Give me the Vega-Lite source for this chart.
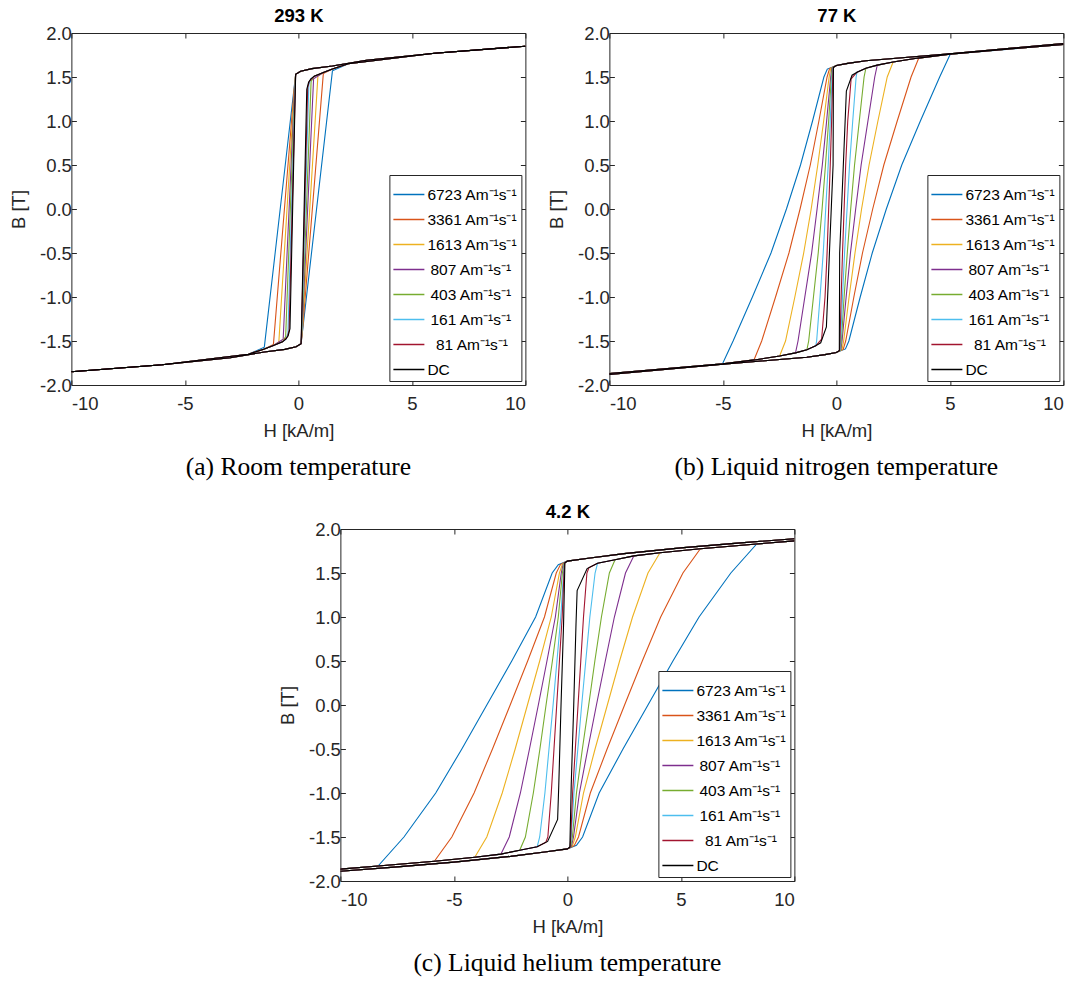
{
"$schema":"https://vega.github.io/schema/vega-lite/v6.json",
"padding":{"left":9,"top":6,"right":5,"bottom":5},
"config":{
 "font":"Liberation Sans",
 "view":{"stroke":"#262626","strokeWidth":1},
 "axis":{"domain":false,"grid":false,"tickColor":"#262626","tickSize":-5,"tickWidth":1,"labelColor":"#262626","labelFontSize":18.5,"labelFont":"Liberation Sans","titleFont":"Liberation Sans","titleFontSize":18.5,"titleFontWeight":"normal","titleColor":"#262626"},
 "axisX":{"labelPadding":14,"titlePadding":9},
 "axisY":{"labelPadding":5,"titlePadding":11},
 "title":{"font":"Liberation Serif","fontSize":25.5,"fontWeight":"normal","color":"#000000","anchor":"middle","offset":15},
 "legend":{"orient":"bottom-right","offset":4,"strokeColor":"#262626","fillColor":"#ffffff","padding":3,"labelFontSize":15.5,"labelColor":"#000000","labelFont":"Liberation Sans","symbolType":"stroke","symbolSize":961,"symbolStrokeWidth":1.5,"rowPadding":-10,"labelLimit":300,"labelOffset":2}
},
"datasets":{
"a":[
{"s":"6723","d":"d","h":10,"b":1.85},{"s":"6723","d":"d","h":6,"b":1.77},{"s":"6723","d":"d","h":3,"b":1.69},{"s":"6723","d":"d","h":1.5,"b":1.625},{"s":"6723","d":"d","h":0.6,"b":1.595},{"s":"6723","d":"d","h":0.1,"b":1.565},{"s":"6723","d":"d","h":-0.12,"b":1.53},{"s":"6723","d":"d","h":-0.2,"b":1.35},{"s":"6723","d":"d","h":-1.5,"b":-1.57},{"s":"6723","d":"d","h":-2.2,"b":-1.65},{"s":"6723","d":"d","h":-6,"b":-1.77},{"s":"6723","d":"d","h":-10,"b":-1.85},
{"s":"6723","d":"a","h":-10,"b":-1.85},{"s":"6723","d":"a","h":-6,"b":-1.77},{"s":"6723","d":"a","h":-3,"b":-1.69},{"s":"6723","d":"a","h":-1.5,"b":-1.625},{"s":"6723","d":"a","h":-0.6,"b":-1.595},{"s":"6723","d":"a","h":-0.1,"b":-1.565},{"s":"6723","d":"a","h":0.12,"b":-1.53},{"s":"6723","d":"a","h":0.2,"b":-1.35},{"s":"6723","d":"a","h":1.5,"b":1.57},{"s":"6723","d":"a","h":2.2,"b":1.65},{"s":"6723","d":"a","h":6,"b":1.77},{"s":"6723","d":"a","h":10,"b":1.85},
{"s":"3361","d":"d","h":10,"b":1.85},{"s":"3361","d":"d","h":6,"b":1.77},{"s":"3361","d":"d","h":3,"b":1.69},{"s":"3361","d":"d","h":1.5,"b":1.625},{"s":"3361","d":"d","h":0.6,"b":1.595},{"s":"3361","d":"d","h":0.1,"b":1.565},{"s":"3361","d":"d","h":-0.12,"b":1.53},{"s":"3361","d":"d","h":-0.19,"b":1.35},{"s":"3361","d":"d","h":-1.1,"b":-1.54},{"s":"3361","d":"d","h":-1.5,"b":-1.59},{"s":"3361","d":"d","h":-2.2,"b":-1.65},{"s":"3361","d":"d","h":-6,"b":-1.77},{"s":"3361","d":"d","h":-10,"b":-1.85},
{"s":"3361","d":"a","h":-10,"b":-1.85},{"s":"3361","d":"a","h":-6,"b":-1.77},{"s":"3361","d":"a","h":-3,"b":-1.69},{"s":"3361","d":"a","h":-1.5,"b":-1.625},{"s":"3361","d":"a","h":-0.6,"b":-1.595},{"s":"3361","d":"a","h":-0.1,"b":-1.565},{"s":"3361","d":"a","h":0.12,"b":-1.53},{"s":"3361","d":"a","h":0.19,"b":-1.35},{"s":"3361","d":"a","h":1.1,"b":1.54},{"s":"3361","d":"a","h":1.5,"b":1.59},{"s":"3361","d":"a","h":2.2,"b":1.65},{"s":"3361","d":"a","h":6,"b":1.77},{"s":"3361","d":"a","h":10,"b":1.85},
{"s":"1613","d":"d","h":10,"b":1.85},{"s":"1613","d":"d","h":6,"b":1.77},{"s":"1613","d":"d","h":3,"b":1.69},{"s":"1613","d":"d","h":1.5,"b":1.625},{"s":"1613","d":"d","h":0.6,"b":1.595},{"s":"1613","d":"d","h":0.1,"b":1.565},{"s":"1613","d":"d","h":-0.12,"b":1.53},{"s":"1613","d":"d","h":-0.18,"b":1.35},{"s":"1613","d":"d","h":-0.86,"b":-1.51},{"s":"1613","d":"d","h":-1.1,"b":-1.55},{"s":"1613","d":"d","h":-1.5,"b":-1.59},{"s":"1613","d":"d","h":-2.2,"b":-1.65},{"s":"1613","d":"d","h":-6,"b":-1.77},{"s":"1613","d":"d","h":-10,"b":-1.85},
{"s":"1613","d":"a","h":-10,"b":-1.85},{"s":"1613","d":"a","h":-6,"b":-1.77},{"s":"1613","d":"a","h":-3,"b":-1.69},{"s":"1613","d":"a","h":-1.5,"b":-1.625},{"s":"1613","d":"a","h":-0.6,"b":-1.595},{"s":"1613","d":"a","h":-0.1,"b":-1.565},{"s":"1613","d":"a","h":0.12,"b":-1.53},{"s":"1613","d":"a","h":0.18,"b":-1.35},{"s":"1613","d":"a","h":0.86,"b":1.51},{"s":"1613","d":"a","h":1.1,"b":1.55},{"s":"1613","d":"a","h":1.5,"b":1.59},{"s":"1613","d":"a","h":2.2,"b":1.65},{"s":"1613","d":"a","h":6,"b":1.77},{"s":"1613","d":"a","h":10,"b":1.85},
{"s":"807","d":"d","h":10,"b":1.85},{"s":"807","d":"d","h":6,"b":1.77},{"s":"807","d":"d","h":3,"b":1.69},{"s":"807","d":"d","h":1.5,"b":1.625},{"s":"807","d":"d","h":0.6,"b":1.595},{"s":"807","d":"d","h":0.1,"b":1.565},{"s":"807","d":"d","h":-0.12,"b":1.53},{"s":"807","d":"d","h":-0.17,"b":1.35},{"s":"807","d":"d","h":-0.67,"b":-1.48},{"s":"807","d":"d","h":-1.1,"b":-1.55},{"s":"807","d":"d","h":-1.5,"b":-1.59},{"s":"807","d":"d","h":-2.2,"b":-1.65},{"s":"807","d":"d","h":-6,"b":-1.77},{"s":"807","d":"d","h":-10,"b":-1.85},
{"s":"807","d":"a","h":-10,"b":-1.85},{"s":"807","d":"a","h":-6,"b":-1.77},{"s":"807","d":"a","h":-3,"b":-1.69},{"s":"807","d":"a","h":-1.5,"b":-1.625},{"s":"807","d":"a","h":-0.6,"b":-1.595},{"s":"807","d":"a","h":-0.1,"b":-1.565},{"s":"807","d":"a","h":0.12,"b":-1.53},{"s":"807","d":"a","h":0.17,"b":-1.35},{"s":"807","d":"a","h":0.67,"b":1.48},{"s":"807","d":"a","h":1.1,"b":1.55},{"s":"807","d":"a","h":1.5,"b":1.59},{"s":"807","d":"a","h":2.2,"b":1.65},{"s":"807","d":"a","h":6,"b":1.77},{"s":"807","d":"a","h":10,"b":1.85},
{"s":"403","d":"d","h":10,"b":1.85},{"s":"403","d":"d","h":6,"b":1.77},{"s":"403","d":"d","h":3,"b":1.69},{"s":"403","d":"d","h":1.5,"b":1.625},{"s":"403","d":"d","h":0.6,"b":1.595},{"s":"403","d":"d","h":0.1,"b":1.565},{"s":"403","d":"d","h":-0.12,"b":1.53},{"s":"403","d":"d","h":-0.16,"b":1.35},{"s":"403","d":"d","h":-0.56,"b":-1.45},{"s":"403","d":"d","h":-0.7,"b":-1.51},{"s":"403","d":"d","h":-1.1,"b":-1.55},{"s":"403","d":"d","h":-1.5,"b":-1.59},{"s":"403","d":"d","h":-2.2,"b":-1.65},{"s":"403","d":"d","h":-6,"b":-1.77},{"s":"403","d":"d","h":-10,"b":-1.85},
{"s":"403","d":"a","h":-10,"b":-1.85},{"s":"403","d":"a","h":-6,"b":-1.77},{"s":"403","d":"a","h":-3,"b":-1.69},{"s":"403","d":"a","h":-1.5,"b":-1.625},{"s":"403","d":"a","h":-0.6,"b":-1.595},{"s":"403","d":"a","h":-0.1,"b":-1.565},{"s":"403","d":"a","h":0.12,"b":-1.53},{"s":"403","d":"a","h":0.16,"b":-1.35},{"s":"403","d":"a","h":0.56,"b":1.45},{"s":"403","d":"a","h":0.7,"b":1.51},{"s":"403","d":"a","h":1.1,"b":1.55},{"s":"403","d":"a","h":1.5,"b":1.59},{"s":"403","d":"a","h":2.2,"b":1.65},{"s":"403","d":"a","h":6,"b":1.77},{"s":"403","d":"a","h":10,"b":1.85},
{"s":"161","d":"d","h":10,"b":1.85},{"s":"161","d":"d","h":6,"b":1.77},{"s":"161","d":"d","h":3,"b":1.69},{"s":"161","d":"d","h":1.5,"b":1.625},{"s":"161","d":"d","h":0.6,"b":1.595},{"s":"161","d":"d","h":0.1,"b":1.565},{"s":"161","d":"d","h":-0.12,"b":1.53},{"s":"161","d":"d","h":-0.15,"b":1.35},{"s":"161","d":"d","h":-0.46,"b":-1.41},{"s":"161","d":"d","h":-0.55,"b":-1.48},{"s":"161","d":"d","h":-0.7,"b":-1.51},{"s":"161","d":"d","h":-1.1,"b":-1.55},{"s":"161","d":"d","h":-1.5,"b":-1.59},{"s":"161","d":"d","h":-2.2,"b":-1.65},{"s":"161","d":"d","h":-6,"b":-1.77},{"s":"161","d":"d","h":-10,"b":-1.85},
{"s":"161","d":"a","h":-10,"b":-1.85},{"s":"161","d":"a","h":-6,"b":-1.77},{"s":"161","d":"a","h":-3,"b":-1.69},{"s":"161","d":"a","h":-1.5,"b":-1.625},{"s":"161","d":"a","h":-0.6,"b":-1.595},{"s":"161","d":"a","h":-0.1,"b":-1.565},{"s":"161","d":"a","h":0.12,"b":-1.53},{"s":"161","d":"a","h":0.15,"b":-1.35},{"s":"161","d":"a","h":0.46,"b":1.41},{"s":"161","d":"a","h":0.55,"b":1.48},{"s":"161","d":"a","h":0.7,"b":1.51},{"s":"161","d":"a","h":1.1,"b":1.55},{"s":"161","d":"a","h":1.5,"b":1.59},{"s":"161","d":"a","h":2.2,"b":1.65},{"s":"161","d":"a","h":6,"b":1.77},{"s":"161","d":"a","h":10,"b":1.85},
{"s":"81","d":"d","h":10,"b":1.85},{"s":"81","d":"d","h":6,"b":1.77},{"s":"81","d":"d","h":3,"b":1.69},{"s":"81","d":"d","h":1.5,"b":1.625},{"s":"81","d":"d","h":0.6,"b":1.595},{"s":"81","d":"d","h":0.1,"b":1.565},{"s":"81","d":"d","h":-0.12,"b":1.53},{"s":"81","d":"d","h":-0.14,"b":1.35},{"s":"81","d":"d","h":-0.41,"b":-1.38},{"s":"81","d":"d","h":-0.48,"b":-1.45},{"s":"81","d":"d","h":-0.7,"b":-1.51},{"s":"81","d":"d","h":-1.1,"b":-1.55},{"s":"81","d":"d","h":-1.5,"b":-1.59},{"s":"81","d":"d","h":-2.2,"b":-1.65},{"s":"81","d":"d","h":-6,"b":-1.77},{"s":"81","d":"d","h":-10,"b":-1.85},
{"s":"81","d":"a","h":-10,"b":-1.85},{"s":"81","d":"a","h":-6,"b":-1.77},{"s":"81","d":"a","h":-3,"b":-1.69},{"s":"81","d":"a","h":-1.5,"b":-1.625},{"s":"81","d":"a","h":-0.6,"b":-1.595},{"s":"81","d":"a","h":-0.1,"b":-1.565},{"s":"81","d":"a","h":0.12,"b":-1.53},{"s":"81","d":"a","h":0.14,"b":-1.35},{"s":"81","d":"a","h":0.41,"b":1.38},{"s":"81","d":"a","h":0.48,"b":1.45},{"s":"81","d":"a","h":0.7,"b":1.51},{"s":"81","d":"a","h":1.1,"b":1.55},{"s":"81","d":"a","h":1.5,"b":1.59},{"s":"81","d":"a","h":2.2,"b":1.65},{"s":"81","d":"a","h":6,"b":1.77},{"s":"81","d":"a","h":10,"b":1.85},
{"s":"DC","d":"d","h":10,"b":1.85},{"s":"DC","d":"d","h":6,"b":1.77},{"s":"DC","d":"d","h":3,"b":1.69},{"s":"DC","d":"d","h":1.5,"b":1.625},{"s":"DC","d":"d","h":0.6,"b":1.595},{"s":"DC","d":"d","h":0.1,"b":1.565},{"s":"DC","d":"d","h":-0.12,"b":1.53},{"s":"DC","d":"d","h":-0.37,"b":-1.36},{"s":"DC","d":"d","h":-0.45,"b":-1.44},{"s":"DC","d":"d","h":-0.55,"b":-1.48},{"s":"DC","d":"d","h":-0.7,"b":-1.51},{"s":"DC","d":"d","h":-1.1,"b":-1.55},{"s":"DC","d":"d","h":-1.5,"b":-1.59},{"s":"DC","d":"d","h":-2.2,"b":-1.65},{"s":"DC","d":"d","h":-6,"b":-1.77},{"s":"DC","d":"d","h":-10,"b":-1.85},
{"s":"DC","d":"a","h":-10,"b":-1.85},{"s":"DC","d":"a","h":-6,"b":-1.77},{"s":"DC","d":"a","h":-3,"b":-1.69},{"s":"DC","d":"a","h":-1.5,"b":-1.625},{"s":"DC","d":"a","h":-0.6,"b":-1.595},{"s":"DC","d":"a","h":-0.1,"b":-1.565},{"s":"DC","d":"a","h":0.12,"b":-1.53},{"s":"DC","d":"a","h":0.37,"b":1.36},{"s":"DC","d":"a","h":0.45,"b":1.44},{"s":"DC","d":"a","h":0.55,"b":1.48},{"s":"DC","d":"a","h":0.7,"b":1.51},{"s":"DC","d":"a","h":1.1,"b":1.55},{"s":"DC","d":"a","h":1.5,"b":1.59},{"s":"DC","d":"a","h":2.2,"b":1.65},{"s":"DC","d":"a","h":6,"b":1.77},{"s":"DC","d":"a","h":10,"b":1.85}
],
"b":[
{"s":"6723","d":"d","h":10,"b":1.88},{"s":"6723","d":"d","h":5,"b":1.765},{"s":"6723","d":"d","h":2.5,"b":1.71},{"s":"6723","d":"d","h":1.3,"b":1.685},{"s":"6723","d":"d","h":0.5,"b":1.655},{"s":"6723","d":"d","h":0,"b":1.63},{"s":"6723","d":"d","h":-0.4,"b":1.59},{"s":"6723","d":"d","h":-0.55,"b":1.5},{"s":"6723","d":"d","h":-1.05,"b":1},{"s":"6723","d":"d","h":-1.58,"b":0.5},{"s":"6723","d":"d","h":-2.2,"b":0},{"s":"6723","d":"d","h":-2.88,"b":-0.5},{"s":"6723","d":"d","h":-3.7,"b":-1},{"s":"6723","d":"d","h":-4.55,"b":-1.5},{"s":"6723","d":"d","h":-5.02,"b":-1.76},{"s":"6723","d":"d","h":-10,"b":-1.87},
{"s":"6723","d":"a","h":-10,"b":-1.88},{"s":"6723","d":"a","h":-5,"b":-1.765},{"s":"6723","d":"a","h":-2.5,"b":-1.71},{"s":"6723","d":"a","h":-1.3,"b":-1.685},{"s":"6723","d":"a","h":-0.5,"b":-1.655},{"s":"6723","d":"a","h":0,"b":-1.63},{"s":"6723","d":"a","h":0.4,"b":-1.59},{"s":"6723","d":"a","h":0.55,"b":-1.5},{"s":"6723","d":"a","h":1.05,"b":-1},{"s":"6723","d":"a","h":1.58,"b":-0.5},{"s":"6723","d":"a","h":2.2,"b":0},{"s":"6723","d":"a","h":2.88,"b":0.5},{"s":"6723","d":"a","h":3.7,"b":1},{"s":"6723","d":"a","h":4.55,"b":1.5},{"s":"6723","d":"a","h":5.02,"b":1.76},{"s":"6723","d":"a","h":10,"b":1.87},
{"s":"3361","d":"d","h":10,"b":1.88},{"s":"3361","d":"d","h":5,"b":1.765},{"s":"3361","d":"d","h":2.5,"b":1.71},{"s":"3361","d":"d","h":1.3,"b":1.685},{"s":"3361","d":"d","h":0.5,"b":1.655},{"s":"3361","d":"d","h":0,"b":1.63},{"s":"3361","d":"d","h":-0.3,"b":1.595},{"s":"3361","d":"d","h":-0.41,"b":1.5},{"s":"3361","d":"d","h":-0.77,"b":1},{"s":"3361","d":"d","h":-1.15,"b":0.5},{"s":"3361","d":"d","h":-1.6,"b":0},{"s":"3361","d":"d","h":-2.09,"b":-0.5},{"s":"3361","d":"d","h":-2.68,"b":-1},{"s":"3361","d":"d","h":-3.29,"b":-1.5},{"s":"3361","d":"d","h":-3.63,"b":-1.715},{"s":"3361","d":"d","h":-5,"b":-1.76},{"s":"3361","d":"d","h":-10,"b":-1.87},
{"s":"3361","d":"a","h":-10,"b":-1.88},{"s":"3361","d":"a","h":-5,"b":-1.765},{"s":"3361","d":"a","h":-2.5,"b":-1.71},{"s":"3361","d":"a","h":-1.3,"b":-1.685},{"s":"3361","d":"a","h":-0.5,"b":-1.655},{"s":"3361","d":"a","h":0,"b":-1.63},{"s":"3361","d":"a","h":0.3,"b":-1.595},{"s":"3361","d":"a","h":0.41,"b":-1.5},{"s":"3361","d":"a","h":0.77,"b":-1},{"s":"3361","d":"a","h":1.15,"b":-0.5},{"s":"3361","d":"a","h":1.6,"b":0},{"s":"3361","d":"a","h":2.09,"b":0.5},{"s":"3361","d":"a","h":2.68,"b":1},{"s":"3361","d":"a","h":3.29,"b":1.5},{"s":"3361","d":"a","h":3.63,"b":1.715},{"s":"3361","d":"a","h":5,"b":1.76},{"s":"3361","d":"a","h":10,"b":1.87},
{"s":"1613","d":"d","h":10,"b":1.88},{"s":"1613","d":"d","h":5,"b":1.765},{"s":"1613","d":"d","h":2.5,"b":1.71},{"s":"1613","d":"d","h":1.3,"b":1.685},{"s":"1613","d":"d","h":0.5,"b":1.655},{"s":"1613","d":"d","h":0,"b":1.63},{"s":"1613","d":"d","h":-0.25,"b":1.598},{"s":"1613","d":"d","h":-0.32,"b":1.5},{"s":"1613","d":"d","h":-0.56,"b":1},{"s":"1613","d":"d","h":-0.82,"b":0.5},{"s":"1613","d":"d","h":-1.11,"b":0},{"s":"1613","d":"d","h":-1.44,"b":-0.5},{"s":"1613","d":"d","h":-1.83,"b":-1},{"s":"1613","d":"d","h":-2.24,"b":-1.5},{"s":"1613","d":"d","h":-2.5,"b":-1.67},{"s":"1613","d":"d","h":-3.6,"b":-1.715},{"s":"1613","d":"d","h":-5,"b":-1.76},{"s":"1613","d":"d","h":-10,"b":-1.87},
{"s":"1613","d":"a","h":-10,"b":-1.88},{"s":"1613","d":"a","h":-5,"b":-1.765},{"s":"1613","d":"a","h":-2.5,"b":-1.71},{"s":"1613","d":"a","h":-1.3,"b":-1.685},{"s":"1613","d":"a","h":-0.5,"b":-1.655},{"s":"1613","d":"a","h":0,"b":-1.63},{"s":"1613","d":"a","h":0.25,"b":-1.598},{"s":"1613","d":"a","h":0.32,"b":-1.5},{"s":"1613","d":"a","h":0.56,"b":-1},{"s":"1613","d":"a","h":0.82,"b":-0.5},{"s":"1613","d":"a","h":1.11,"b":0},{"s":"1613","d":"a","h":1.44,"b":0.5},{"s":"1613","d":"a","h":1.83,"b":1},{"s":"1613","d":"a","h":2.24,"b":1.5},{"s":"1613","d":"a","h":2.5,"b":1.67},{"s":"1613","d":"a","h":3.6,"b":1.715},{"s":"1613","d":"a","h":5,"b":1.76},{"s":"1613","d":"a","h":10,"b":1.87},
{"s":"807","d":"d","h":10,"b":1.88},{"s":"807","d":"d","h":5,"b":1.765},{"s":"807","d":"d","h":2.5,"b":1.71},{"s":"807","d":"d","h":1.3,"b":1.685},{"s":"807","d":"d","h":0.5,"b":1.655},{"s":"807","d":"d","h":0,"b":1.63},{"s":"807","d":"d","h":-0.2,"b":1.6},{"s":"807","d":"d","h":-0.25,"b":1.5},{"s":"807","d":"d","h":-0.43,"b":1},{"s":"807","d":"d","h":-0.62,"b":0.5},{"s":"807","d":"d","h":-0.85,"b":0},{"s":"807","d":"d","h":-1.09,"b":-0.5},{"s":"807","d":"d","h":-1.39,"b":-1},{"s":"807","d":"d","h":-1.69,"b":-1.5},{"s":"807","d":"d","h":-1.8,"b":-1.635},{"s":"807","d":"d","h":-2.5,"b":-1.67},{"s":"807","d":"d","h":-3.6,"b":-1.715},{"s":"807","d":"d","h":-5,"b":-1.76},{"s":"807","d":"d","h":-10,"b":-1.87},
{"s":"807","d":"a","h":-10,"b":-1.88},{"s":"807","d":"a","h":-5,"b":-1.765},{"s":"807","d":"a","h":-2.5,"b":-1.71},{"s":"807","d":"a","h":-1.3,"b":-1.685},{"s":"807","d":"a","h":-0.5,"b":-1.655},{"s":"807","d":"a","h":0,"b":-1.63},{"s":"807","d":"a","h":0.2,"b":-1.6},{"s":"807","d":"a","h":0.25,"b":-1.5},{"s":"807","d":"a","h":0.43,"b":-1},{"s":"807","d":"a","h":0.62,"b":-0.5},{"s":"807","d":"a","h":0.85,"b":0},{"s":"807","d":"a","h":1.09,"b":0.5},{"s":"807","d":"a","h":1.39,"b":1},{"s":"807","d":"a","h":1.69,"b":1.5},{"s":"807","d":"a","h":1.8,"b":1.635},{"s":"807","d":"a","h":2.5,"b":1.67},{"s":"807","d":"a","h":3.6,"b":1.715},{"s":"807","d":"a","h":5,"b":1.76},{"s":"807","d":"a","h":10,"b":1.87},
{"s":"403","d":"d","h":10,"b":1.88},{"s":"403","d":"d","h":5,"b":1.765},{"s":"403","d":"d","h":2.5,"b":1.71},{"s":"403","d":"d","h":1.3,"b":1.685},{"s":"403","d":"d","h":0.5,"b":1.655},{"s":"403","d":"d","h":0,"b":1.63},{"s":"403","d":"d","h":-0.18,"b":1.603},{"s":"403","d":"d","h":-0.22,"b":1.5},{"s":"403","d":"d","h":-0.34,"b":1},{"s":"403","d":"d","h":-0.48,"b":0.5},{"s":"403","d":"d","h":-0.63,"b":0},{"s":"403","d":"d","h":-0.8,"b":-0.5},{"s":"403","d":"d","h":-1.01,"b":-1},{"s":"403","d":"d","h":-1.22,"b":-1.5},{"s":"403","d":"d","h":-1.3,"b":-1.6},{"s":"403","d":"d","h":-1.8,"b":-1.635},{"s":"403","d":"d","h":-2.5,"b":-1.67},{"s":"403","d":"d","h":-3.6,"b":-1.715},{"s":"403","d":"d","h":-5,"b":-1.76},{"s":"403","d":"d","h":-10,"b":-1.87},
{"s":"403","d":"a","h":-10,"b":-1.88},{"s":"403","d":"a","h":-5,"b":-1.765},{"s":"403","d":"a","h":-2.5,"b":-1.71},{"s":"403","d":"a","h":-1.3,"b":-1.685},{"s":"403","d":"a","h":-0.5,"b":-1.655},{"s":"403","d":"a","h":0,"b":-1.63},{"s":"403","d":"a","h":0.18,"b":-1.603},{"s":"403","d":"a","h":0.22,"b":-1.5},{"s":"403","d":"a","h":0.34,"b":-1},{"s":"403","d":"a","h":0.48,"b":-0.5},{"s":"403","d":"a","h":0.63,"b":0},{"s":"403","d":"a","h":0.8,"b":0.5},{"s":"403","d":"a","h":1.01,"b":1},{"s":"403","d":"a","h":1.22,"b":1.5},{"s":"403","d":"a","h":1.3,"b":1.6},{"s":"403","d":"a","h":1.8,"b":1.635},{"s":"403","d":"a","h":2.5,"b":1.67},{"s":"403","d":"a","h":3.6,"b":1.715},{"s":"403","d":"a","h":5,"b":1.76},{"s":"403","d":"a","h":10,"b":1.87},
{"s":"161","d":"d","h":10,"b":1.88},{"s":"161","d":"d","h":5,"b":1.765},{"s":"161","d":"d","h":2.5,"b":1.71},{"s":"161","d":"d","h":1.3,"b":1.685},{"s":"161","d":"d","h":0.5,"b":1.655},{"s":"161","d":"d","h":0,"b":1.63},{"s":"161","d":"d","h":-0.16,"b":1.605},{"s":"161","d":"d","h":-0.19,"b":1.5},{"s":"161","d":"d","h":-0.27,"b":1},{"s":"161","d":"d","h":-0.36,"b":0.5},{"s":"161","d":"d","h":-0.47,"b":0},{"s":"161","d":"d","h":-0.58,"b":-0.5},{"s":"161","d":"d","h":-0.72,"b":-1},{"s":"161","d":"d","h":-0.87,"b":-1.5},{"s":"161","d":"d","h":-0.91,"b":-1.555},{"s":"161","d":"d","h":-1.3,"b":-1.6},{"s":"161","d":"d","h":-1.8,"b":-1.635},{"s":"161","d":"d","h":-2.5,"b":-1.67},{"s":"161","d":"d","h":-3.6,"b":-1.715},{"s":"161","d":"d","h":-5,"b":-1.76},{"s":"161","d":"d","h":-10,"b":-1.87},
{"s":"161","d":"a","h":-10,"b":-1.88},{"s":"161","d":"a","h":-5,"b":-1.765},{"s":"161","d":"a","h":-2.5,"b":-1.71},{"s":"161","d":"a","h":-1.3,"b":-1.685},{"s":"161","d":"a","h":-0.5,"b":-1.655},{"s":"161","d":"a","h":0,"b":-1.63},{"s":"161","d":"a","h":0.16,"b":-1.605},{"s":"161","d":"a","h":0.19,"b":-1.5},{"s":"161","d":"a","h":0.27,"b":-1},{"s":"161","d":"a","h":0.36,"b":-0.5},{"s":"161","d":"a","h":0.47,"b":0},{"s":"161","d":"a","h":0.58,"b":0.5},{"s":"161","d":"a","h":0.72,"b":1},{"s":"161","d":"a","h":0.87,"b":1.5},{"s":"161","d":"a","h":0.91,"b":1.555},{"s":"161","d":"a","h":1.3,"b":1.6},{"s":"161","d":"a","h":1.8,"b":1.635},{"s":"161","d":"a","h":2.5,"b":1.67},{"s":"161","d":"a","h":3.6,"b":1.715},{"s":"161","d":"a","h":5,"b":1.76},{"s":"161","d":"a","h":10,"b":1.87},
{"s":"81","d":"d","h":10,"b":1.88},{"s":"81","d":"d","h":5,"b":1.765},{"s":"81","d":"d","h":2.5,"b":1.71},{"s":"81","d":"d","h":1.3,"b":1.685},{"s":"81","d":"d","h":0.5,"b":1.655},{"s":"81","d":"d","h":0,"b":1.63},{"s":"81","d":"d","h":-0.14,"b":1.607},{"s":"81","d":"d","h":-0.16,"b":1.5},{"s":"81","d":"d","h":-0.21,"b":1},{"s":"81","d":"d","h":-0.27,"b":0.5},{"s":"81","d":"d","h":-0.34,"b":0},{"s":"81","d":"d","h":-0.41,"b":-0.5},{"s":"81","d":"d","h":-0.5,"b":-1},{"s":"81","d":"d","h":-0.65,"b":-1.48},{"s":"81","d":"d","h":-0.91,"b":-1.555},{"s":"81","d":"d","h":-1.3,"b":-1.6},{"s":"81","d":"d","h":-1.8,"b":-1.635},{"s":"81","d":"d","h":-2.5,"b":-1.67},{"s":"81","d":"d","h":-3.6,"b":-1.715},{"s":"81","d":"d","h":-5,"b":-1.76},{"s":"81","d":"d","h":-10,"b":-1.87},
{"s":"81","d":"a","h":-10,"b":-1.88},{"s":"81","d":"a","h":-5,"b":-1.765},{"s":"81","d":"a","h":-2.5,"b":-1.71},{"s":"81","d":"a","h":-1.3,"b":-1.685},{"s":"81","d":"a","h":-0.5,"b":-1.655},{"s":"81","d":"a","h":0,"b":-1.63},{"s":"81","d":"a","h":0.14,"b":-1.607},{"s":"81","d":"a","h":0.16,"b":-1.5},{"s":"81","d":"a","h":0.21,"b":-1},{"s":"81","d":"a","h":0.27,"b":-0.5},{"s":"81","d":"a","h":0.34,"b":0},{"s":"81","d":"a","h":0.41,"b":0.5},{"s":"81","d":"a","h":0.5,"b":1},{"s":"81","d":"a","h":0.65,"b":1.48},{"s":"81","d":"a","h":0.91,"b":1.555},{"s":"81","d":"a","h":1.3,"b":1.6},{"s":"81","d":"a","h":1.8,"b":1.635},{"s":"81","d":"a","h":2.5,"b":1.67},{"s":"81","d":"a","h":3.6,"b":1.715},{"s":"81","d":"a","h":5,"b":1.76},{"s":"81","d":"a","h":10,"b":1.87},
{"s":"DC","d":"d","h":10,"b":1.88},{"s":"DC","d":"d","h":5,"b":1.765},{"s":"DC","d":"d","h":2.5,"b":1.71},{"s":"DC","d":"d","h":1.3,"b":1.685},{"s":"DC","d":"d","h":0.5,"b":1.655},{"s":"DC","d":"d","h":0,"b":1.63},{"s":"DC","d":"d","h":-0.13,"b":1.61},{"s":"DC","d":"d","h":-0.145,"b":0.5},{"s":"DC","d":"d","h":-0.3,"b":-0.46},{"s":"DC","d":"d","h":-0.44,"b":-1.34},{"s":"DC","d":"d","h":-0.69,"b":-1.52},{"s":"DC","d":"d","h":-0.91,"b":-1.555},{"s":"DC","d":"d","h":-1.3,"b":-1.6},{"s":"DC","d":"d","h":-1.8,"b":-1.635},{"s":"DC","d":"d","h":-2.5,"b":-1.67},{"s":"DC","d":"d","h":-3.6,"b":-1.715},{"s":"DC","d":"d","h":-5,"b":-1.76},{"s":"DC","d":"d","h":-10,"b":-1.87},
{"s":"DC","d":"a","h":-10,"b":-1.88},{"s":"DC","d":"a","h":-5,"b":-1.765},{"s":"DC","d":"a","h":-2.5,"b":-1.71},{"s":"DC","d":"a","h":-1.3,"b":-1.685},{"s":"DC","d":"a","h":-0.5,"b":-1.655},{"s":"DC","d":"a","h":0,"b":-1.63},{"s":"DC","d":"a","h":0.13,"b":-1.61},{"s":"DC","d":"a","h":0.145,"b":-0.5},{"s":"DC","d":"a","h":0.3,"b":0.46},{"s":"DC","d":"a","h":0.44,"b":1.34},{"s":"DC","d":"a","h":0.69,"b":1.52},{"s":"DC","d":"a","h":0.91,"b":1.555},{"s":"DC","d":"a","h":1.3,"b":1.6},{"s":"DC","d":"a","h":1.8,"b":1.635},{"s":"DC","d":"a","h":2.5,"b":1.67},{"s":"DC","d":"a","h":3.6,"b":1.715},{"s":"DC","d":"a","h":5,"b":1.76},{"s":"DC","d":"a","h":10,"b":1.87}
],
"c":[
{"s":"6723","d":"d","h":10,"b":1.89},{"s":"6723","d":"d","h":7.5,"b":1.84},{"s":"6723","d":"d","h":5,"b":1.785},{"s":"6723","d":"d","h":2.5,"b":1.72},{"s":"6723","d":"d","h":1,"b":1.67},{"s":"6723","d":"d","h":0,"b":1.635},{"s":"6723","d":"d","h":-0.4,"b":1.595},{"s":"6723","d":"d","h":-0.67,"b":1.5},{"s":"6723","d":"d","h":-1.4,"b":1},{"s":"6723","d":"d","h":-2.45,"b":0.5},{"s":"6723","d":"d","h":-3.55,"b":0},{"s":"6723","d":"d","h":-4.65,"b":-0.5},{"s":"6723","d":"d","h":-5.8,"b":-1},{"s":"6723","d":"d","h":-7.2,"b":-1.5},{"s":"6723","d":"d","h":-8.34,"b":-1.83},{"s":"6723","d":"d","h":-10,"b":-1.865},
{"s":"6723","d":"a","h":-10,"b":-1.89},{"s":"6723","d":"a","h":-7.5,"b":-1.84},{"s":"6723","d":"a","h":-5,"b":-1.785},{"s":"6723","d":"a","h":-2.5,"b":-1.72},{"s":"6723","d":"a","h":-1,"b":-1.67},{"s":"6723","d":"a","h":0,"b":-1.635},{"s":"6723","d":"a","h":0.4,"b":-1.595},{"s":"6723","d":"a","h":0.67,"b":-1.5},{"s":"6723","d":"a","h":1.4,"b":-1},{"s":"6723","d":"a","h":2.45,"b":-0.5},{"s":"6723","d":"a","h":3.55,"b":0},{"s":"6723","d":"a","h":4.65,"b":0.5},{"s":"6723","d":"a","h":5.8,"b":1},{"s":"6723","d":"a","h":7.2,"b":1.5},{"s":"6723","d":"a","h":8.34,"b":1.83},{"s":"6723","d":"a","h":10,"b":1.865},
{"s":"3361","d":"d","h":10,"b":1.89},{"s":"3361","d":"d","h":7.5,"b":1.84},{"s":"3361","d":"d","h":5,"b":1.785},{"s":"3361","d":"d","h":2.5,"b":1.72},{"s":"3361","d":"d","h":1,"b":1.67},{"s":"3361","d":"d","h":0,"b":1.635},{"s":"3361","d":"d","h":-0.3,"b":1.598},{"s":"3361","d":"d","h":-0.49,"b":1.5},{"s":"3361","d":"d","h":-1.01,"b":1},{"s":"3361","d":"d","h":-1.75,"b":0.5},{"s":"3361","d":"d","h":-2.52,"b":0},{"s":"3361","d":"d","h":-3.3,"b":-0.5},{"s":"3361","d":"d","h":-4.11,"b":-1},{"s":"3361","d":"d","h":-5.09,"b":-1.5},{"s":"3361","d":"d","h":-5.86,"b":-1.775},{"s":"3361","d":"d","h":-8.34,"b":-1.83},{"s":"3361","d":"d","h":-10,"b":-1.865},
{"s":"3361","d":"a","h":-10,"b":-1.89},{"s":"3361","d":"a","h":-7.5,"b":-1.84},{"s":"3361","d":"a","h":-5,"b":-1.785},{"s":"3361","d":"a","h":-2.5,"b":-1.72},{"s":"3361","d":"a","h":-1,"b":-1.67},{"s":"3361","d":"a","h":0,"b":-1.635},{"s":"3361","d":"a","h":0.3,"b":-1.598},{"s":"3361","d":"a","h":0.49,"b":-1.5},{"s":"3361","d":"a","h":1.01,"b":-1},{"s":"3361","d":"a","h":1.75,"b":-0.5},{"s":"3361","d":"a","h":2.52,"b":0},{"s":"3361","d":"a","h":3.3,"b":0.5},{"s":"3361","d":"a","h":4.11,"b":1},{"s":"3361","d":"a","h":5.09,"b":1.5},{"s":"3361","d":"a","h":5.86,"b":1.775},{"s":"3361","d":"a","h":8.34,"b":1.83},{"s":"3361","d":"a","h":10,"b":1.865},
{"s":"1613","d":"d","h":10,"b":1.89},{"s":"1613","d":"d","h":7.5,"b":1.84},{"s":"1613","d":"d","h":5,"b":1.785},{"s":"1613","d":"d","h":2.5,"b":1.72},{"s":"1613","d":"d","h":1,"b":1.67},{"s":"1613","d":"d","h":0,"b":1.635},{"s":"1613","d":"d","h":-0.22,"b":1.6},{"s":"1613","d":"d","h":-0.35,"b":1.5},{"s":"1613","d":"d","h":-0.71,"b":1},{"s":"1613","d":"d","h":-1.22,"b":0.5},{"s":"1613","d":"d","h":-1.76,"b":0},{"s":"1613","d":"d","h":-2.3,"b":-0.5},{"s":"1613","d":"d","h":-2.87,"b":-1},{"s":"1613","d":"d","h":-3.55,"b":-1.5},{"s":"1613","d":"d","h":-4.08,"b":-1.73},{"s":"1613","d":"d","h":-5.86,"b":-1.775},{"s":"1613","d":"d","h":-8.34,"b":-1.83},{"s":"1613","d":"d","h":-10,"b":-1.865},
{"s":"1613","d":"a","h":-10,"b":-1.89},{"s":"1613","d":"a","h":-7.5,"b":-1.84},{"s":"1613","d":"a","h":-5,"b":-1.785},{"s":"1613","d":"a","h":-2.5,"b":-1.72},{"s":"1613","d":"a","h":-1,"b":-1.67},{"s":"1613","d":"a","h":0,"b":-1.635},{"s":"1613","d":"a","h":0.22,"b":-1.6},{"s":"1613","d":"a","h":0.35,"b":-1.5},{"s":"1613","d":"a","h":0.71,"b":-1},{"s":"1613","d":"a","h":1.22,"b":-0.5},{"s":"1613","d":"a","h":1.76,"b":0},{"s":"1613","d":"a","h":2.3,"b":0.5},{"s":"1613","d":"a","h":2.87,"b":1},{"s":"1613","d":"a","h":3.55,"b":1.5},{"s":"1613","d":"a","h":4.08,"b":1.73},{"s":"1613","d":"a","h":5.86,"b":1.775},{"s":"1613","d":"a","h":8.34,"b":1.83},{"s":"1613","d":"a","h":10,"b":1.865},
{"s":"807","d":"d","h":10,"b":1.89},{"s":"807","d":"d","h":7.5,"b":1.84},{"s":"807","d":"d","h":5,"b":1.785},{"s":"807","d":"d","h":2.5,"b":1.72},{"s":"807","d":"d","h":1,"b":1.67},{"s":"807","d":"d","h":0,"b":1.635},{"s":"807","d":"d","h":-0.18,"b":1.605},{"s":"807","d":"d","h":-0.27,"b":1.5},{"s":"807","d":"d","h":-0.53,"b":1},{"s":"807","d":"d","h":-0.9,"b":0.5},{"s":"807","d":"d","h":-1.28,"b":0},{"s":"807","d":"d","h":-1.67,"b":-0.5},{"s":"807","d":"d","h":-2.07,"b":-1},{"s":"807","d":"d","h":-2.56,"b":-1.5},{"s":"807","d":"d","h":-2.93,"b":-1.695},{"s":"807","d":"d","h":-4.08,"b":-1.73},{"s":"807","d":"d","h":-5.86,"b":-1.775},{"s":"807","d":"d","h":-8.34,"b":-1.83},{"s":"807","d":"d","h":-10,"b":-1.865},
{"s":"807","d":"a","h":-10,"b":-1.89},{"s":"807","d":"a","h":-7.5,"b":-1.84},{"s":"807","d":"a","h":-5,"b":-1.785},{"s":"807","d":"a","h":-2.5,"b":-1.72},{"s":"807","d":"a","h":-1,"b":-1.67},{"s":"807","d":"a","h":0,"b":-1.635},{"s":"807","d":"a","h":0.18,"b":-1.605},{"s":"807","d":"a","h":0.27,"b":-1.5},{"s":"807","d":"a","h":0.53,"b":-1},{"s":"807","d":"a","h":0.9,"b":-0.5},{"s":"807","d":"a","h":1.28,"b":0},{"s":"807","d":"a","h":1.67,"b":0.5},{"s":"807","d":"a","h":2.07,"b":1},{"s":"807","d":"a","h":2.56,"b":1.5},{"s":"807","d":"a","h":2.93,"b":1.695},{"s":"807","d":"a","h":4.08,"b":1.73},{"s":"807","d":"a","h":5.86,"b":1.775},{"s":"807","d":"a","h":8.34,"b":1.83},{"s":"807","d":"a","h":10,"b":1.865},
{"s":"403","d":"d","h":10,"b":1.89},{"s":"403","d":"d","h":7.5,"b":1.84},{"s":"403","d":"d","h":5,"b":1.785},{"s":"403","d":"d","h":2.5,"b":1.72},{"s":"403","d":"d","h":1,"b":1.67},{"s":"403","d":"d","h":0,"b":1.635},{"s":"403","d":"d","h":-0.15,"b":1.608},{"s":"403","d":"d","h":-0.22,"b":1.5},{"s":"403","d":"d","h":-0.4,"b":1},{"s":"403","d":"d","h":-0.66,"b":0.5},{"s":"403","d":"d","h":-0.94,"b":0},{"s":"403","d":"d","h":-1.21,"b":-0.5},{"s":"403","d":"d","h":-1.5,"b":-1},{"s":"403","d":"d","h":-1.85,"b":-1.5},{"s":"403","d":"d","h":-2.1,"b":-1.65},{"s":"403","d":"d","h":-2.93,"b":-1.695},{"s":"403","d":"d","h":-4.08,"b":-1.73},{"s":"403","d":"d","h":-5.86,"b":-1.775},{"s":"403","d":"d","h":-8.34,"b":-1.83},{"s":"403","d":"d","h":-10,"b":-1.865},
{"s":"403","d":"a","h":-10,"b":-1.89},{"s":"403","d":"a","h":-7.5,"b":-1.84},{"s":"403","d":"a","h":-5,"b":-1.785},{"s":"403","d":"a","h":-2.5,"b":-1.72},{"s":"403","d":"a","h":-1,"b":-1.67},{"s":"403","d":"a","h":0,"b":-1.635},{"s":"403","d":"a","h":0.15,"b":-1.608},{"s":"403","d":"a","h":0.22,"b":-1.5},{"s":"403","d":"a","h":0.4,"b":-1},{"s":"403","d":"a","h":0.66,"b":-0.5},{"s":"403","d":"a","h":0.94,"b":0},{"s":"403","d":"a","h":1.21,"b":0.5},{"s":"403","d":"a","h":1.5,"b":1},{"s":"403","d":"a","h":1.85,"b":1.5},{"s":"403","d":"a","h":2.1,"b":1.65},{"s":"403","d":"a","h":2.93,"b":1.695},{"s":"403","d":"a","h":4.08,"b":1.73},{"s":"403","d":"a","h":5.86,"b":1.775},{"s":"403","d":"a","h":8.34,"b":1.83},{"s":"403","d":"a","h":10,"b":1.865},
{"s":"161","d":"d","h":10,"b":1.89},{"s":"161","d":"d","h":7.5,"b":1.84},{"s":"161","d":"d","h":5,"b":1.785},{"s":"161","d":"d","h":2.5,"b":1.72},{"s":"161","d":"d","h":1,"b":1.67},{"s":"161","d":"d","h":0,"b":1.635},{"s":"161","d":"d","h":-0.13,"b":1.61},{"s":"161","d":"d","h":-0.17,"b":1.5},{"s":"161","d":"d","h":-0.29,"b":1},{"s":"161","d":"d","h":-0.46,"b":0.5},{"s":"161","d":"d","h":-0.63,"b":0},{"s":"161","d":"d","h":-0.81,"b":-0.5},{"s":"161","d":"d","h":-0.99,"b":-1},{"s":"161","d":"d","h":-1.22,"b":-1.5},{"s":"161","d":"d","h":-1.33,"b":-1.61},{"s":"161","d":"d","h":-2.1,"b":-1.65},{"s":"161","d":"d","h":-2.93,"b":-1.695},{"s":"161","d":"d","h":-4.08,"b":-1.73},{"s":"161","d":"d","h":-5.86,"b":-1.775},{"s":"161","d":"d","h":-8.34,"b":-1.83},{"s":"161","d":"d","h":-10,"b":-1.865},
{"s":"161","d":"a","h":-10,"b":-1.89},{"s":"161","d":"a","h":-7.5,"b":-1.84},{"s":"161","d":"a","h":-5,"b":-1.785},{"s":"161","d":"a","h":-2.5,"b":-1.72},{"s":"161","d":"a","h":-1,"b":-1.67},{"s":"161","d":"a","h":0,"b":-1.635},{"s":"161","d":"a","h":0.13,"b":-1.61},{"s":"161","d":"a","h":0.17,"b":-1.5},{"s":"161","d":"a","h":0.29,"b":-1},{"s":"161","d":"a","h":0.46,"b":-0.5},{"s":"161","d":"a","h":0.63,"b":0},{"s":"161","d":"a","h":0.81,"b":0.5},{"s":"161","d":"a","h":0.99,"b":1},{"s":"161","d":"a","h":1.22,"b":1.5},{"s":"161","d":"a","h":1.33,"b":1.61},{"s":"161","d":"a","h":2.1,"b":1.65},{"s":"161","d":"a","h":2.93,"b":1.695},{"s":"161","d":"a","h":4.08,"b":1.73},{"s":"161","d":"a","h":5.86,"b":1.775},{"s":"161","d":"a","h":8.34,"b":1.83},{"s":"161","d":"a","h":10,"b":1.865},
{"s":"81","d":"d","h":10,"b":1.89},{"s":"81","d":"d","h":7.5,"b":1.84},{"s":"81","d":"d","h":5,"b":1.785},{"s":"81","d":"d","h":2.5,"b":1.72},{"s":"81","d":"d","h":1,"b":1.67},{"s":"81","d":"d","h":0,"b":1.635},{"s":"81","d":"d","h":-0.12,"b":1.613},{"s":"81","d":"d","h":-0.15,"b":1.5},{"s":"81","d":"d","h":-0.23,"b":1},{"s":"81","d":"d","h":-0.35,"b":0.5},{"s":"81","d":"d","h":-0.47,"b":0},{"s":"81","d":"d","h":-0.59,"b":-0.5},{"s":"81","d":"d","h":-0.71,"b":-1},{"s":"81","d":"d","h":-0.86,"b":-1.5},{"s":"81","d":"d","h":-0.95,"b":-1.56},{"s":"81","d":"d","h":-1.33,"b":-1.61},{"s":"81","d":"d","h":-2.1,"b":-1.65},{"s":"81","d":"d","h":-2.93,"b":-1.695},{"s":"81","d":"d","h":-4.08,"b":-1.73},{"s":"81","d":"d","h":-5.86,"b":-1.775},{"s":"81","d":"d","h":-8.34,"b":-1.83},{"s":"81","d":"d","h":-10,"b":-1.865},
{"s":"81","d":"a","h":-10,"b":-1.89},{"s":"81","d":"a","h":-7.5,"b":-1.84},{"s":"81","d":"a","h":-5,"b":-1.785},{"s":"81","d":"a","h":-2.5,"b":-1.72},{"s":"81","d":"a","h":-1,"b":-1.67},{"s":"81","d":"a","h":0,"b":-1.635},{"s":"81","d":"a","h":0.12,"b":-1.613},{"s":"81","d":"a","h":0.15,"b":-1.5},{"s":"81","d":"a","h":0.23,"b":-1},{"s":"81","d":"a","h":0.35,"b":-0.5},{"s":"81","d":"a","h":0.47,"b":0},{"s":"81","d":"a","h":0.59,"b":0.5},{"s":"81","d":"a","h":0.71,"b":1},{"s":"81","d":"a","h":0.86,"b":1.5},{"s":"81","d":"a","h":0.95,"b":1.56},{"s":"81","d":"a","h":1.33,"b":1.61},{"s":"81","d":"a","h":2.1,"b":1.65},{"s":"81","d":"a","h":2.93,"b":1.695},{"s":"81","d":"a","h":4.08,"b":1.73},{"s":"81","d":"a","h":5.86,"b":1.775},{"s":"81","d":"a","h":8.34,"b":1.83},{"s":"81","d":"a","h":10,"b":1.865},
{"s":"DC","d":"d","h":10,"b":1.89},{"s":"DC","d":"d","h":7.5,"b":1.84},{"s":"DC","d":"d","h":5,"b":1.785},{"s":"DC","d":"d","h":2.5,"b":1.72},{"s":"DC","d":"d","h":1,"b":1.67},{"s":"DC","d":"d","h":0,"b":1.635},{"s":"DC","d":"d","h":-0.11,"b":1.615},{"s":"DC","d":"d","h":-0.17,"b":0.9},{"s":"DC","d":"d","h":-0.28,"b":0},{"s":"DC","d":"d","h":-0.38,"b":-0.92},{"s":"DC","d":"d","h":-0.43,"b":-1.3},{"s":"DC","d":"d","h":-0.87,"b":-1.55},{"s":"DC","d":"d","h":-1.33,"b":-1.61},{"s":"DC","d":"d","h":-2.1,"b":-1.65},{"s":"DC","d":"d","h":-2.93,"b":-1.695},{"s":"DC","d":"d","h":-4.08,"b":-1.73},{"s":"DC","d":"d","h":-5.86,"b":-1.775},{"s":"DC","d":"d","h":-8.34,"b":-1.83},{"s":"DC","d":"d","h":-10,"b":-1.865},
{"s":"DC","d":"a","h":-10,"b":-1.89},{"s":"DC","d":"a","h":-7.5,"b":-1.84},{"s":"DC","d":"a","h":-5,"b":-1.785},{"s":"DC","d":"a","h":-2.5,"b":-1.72},{"s":"DC","d":"a","h":-1,"b":-1.67},{"s":"DC","d":"a","h":0,"b":-1.635},{"s":"DC","d":"a","h":0.11,"b":-1.615},{"s":"DC","d":"a","h":0.17,"b":-0.9},{"s":"DC","d":"a","h":0.28,"b":0},{"s":"DC","d":"a","h":0.38,"b":0.92},{"s":"DC","d":"a","h":0.43,"b":1.3},{"s":"DC","d":"a","h":0.87,"b":1.55},{"s":"DC","d":"a","h":1.33,"b":1.61},{"s":"DC","d":"a","h":2.1,"b":1.65},{"s":"DC","d":"a","h":2.93,"b":1.695},{"s":"DC","d":"a","h":4.08,"b":1.73},{"s":"DC","d":"a","h":5.86,"b":1.775},{"s":"DC","d":"a","h":8.34,"b":1.83},{"s":"DC","d":"a","h":10,"b":1.865}
]
},
"vconcat":[
 {"hconcat":[
  {"width":454,"height":352,
   "title":{"text":"(a) Room temperature","orient":"bottom"},
   "data":{"name":"a"},
   "layer":[
    {"mark":{"type":"line","strokeWidth":1.1},
     "encoding":{
      "x":{"field":"h","type":"quantitative","scale":{"domain":[-10,10],"nice":false,"zero":false},"axis":{"values":[-10,-5,0,5,10],"title":"H [kA/m]","labelExpr":"replace(datum.label, '−', '-')"}},
      "y":{"field":"b","type":"quantitative","scale":{"domain":[-2,2],"nice":false,"zero":false},"axis":{"values":[-2,-1.5,-1,-0.5,0,0.5,1,1.5,2],"format":".1f","title":"B [T]","labelExpr":"replace(datum.label, '−', '-')"}},
      "color":{"field":"s","type":"nominal","scale":{"domain":["6723","3361","1613","807","403","161","81","DC"],"range":["#0072BD","#D95319","#EDB120","#7E2F8E","#77AC30","#4DBEEE","#A2142F","#000000"]},"legend":{"title":null,"labelExpr":"datum.label == 'DC' ? 'DC' : (length(datum.label) == 3 ? '\u200b\u2009' : length(datum.label) == 2 ? '\u200b\u2007' : '') + datum.label + ' Am⁻¹s⁻¹'"}},
      "detail":{"field":"d"}
     }},
    {"mark":{"type":"point","opacity":0},
     "encoding":{
      "x":{"field":"h","type":"quantitative","axis":{"orient":"top","values":[-10,-5,0,5,10],"labels":false,"title":"293 K","titleFontWeight":"bold","titleColor":"#000000","titlePadding":7}},
      "y":{"field":"b","type":"quantitative","axis":{"orient":"right","values":[-2,-1.5,-1,-0.5,0,0.5,1,1.5,2],"labels":false,"title":null}}
     }}
   ],
   "resolve":{"axis":{"x":"independent","y":"independent"}}
  },
  {"width":454,"height":352,
   "title":{"text":"(b) Liquid nitrogen temperature","orient":"bottom"},
   "data":{"name":"b"},
   "layer":[
    {"mark":{"type":"line","strokeWidth":1.1},
     "encoding":{
      "x":{"field":"h","type":"quantitative","scale":{"domain":[-10,10],"nice":false,"zero":false},"axis":{"values":[-10,-5,0,5,10],"title":"H [kA/m]","labelExpr":"replace(datum.label, '−', '-')"}},
      "y":{"field":"b","type":"quantitative","scale":{"domain":[-2,2],"nice":false,"zero":false},"axis":{"values":[-2,-1.5,-1,-0.5,0,0.5,1,1.5,2],"format":".1f","title":"B [T]","labelExpr":"replace(datum.label, '−', '-')"}},
      "color":{"field":"s","type":"nominal","scale":{"domain":["6723","3361","1613","807","403","161","81","DC"],"range":["#0072BD","#D95319","#EDB120","#7E2F8E","#77AC30","#4DBEEE","#A2142F","#000000"]},"legend":{"title":null,"labelExpr":"datum.label == 'DC' ? 'DC' : (length(datum.label) == 3 ? '\u200b\u2009' : length(datum.label) == 2 ? '\u200b\u2007' : '') + datum.label + ' Am⁻¹s⁻¹'"}},
      "detail":{"field":"d"}
     }},
    {"mark":{"type":"point","opacity":0},
     "encoding":{
      "x":{"field":"h","type":"quantitative","axis":{"orient":"top","values":[-10,-5,0,5,10],"labels":false,"title":"77 K","titleFontWeight":"bold","titleColor":"#000000","titlePadding":7}},
      "y":{"field":"b","type":"quantitative","axis":{"orient":"right","values":[-2,-1.5,-1,-0.5,0,0.5,1,1.5,2],"labels":false,"title":null}}
     }}
   ],
   "resolve":{"axis":{"x":"independent","y":"independent"}}
  }
 ],
 "spacing":17,
 "resolve":{"scale":{"color":"independent"},"legend":{"color":"independent"}}
 },
 {"width":454,"height":352,
  "title":{"text":"(c) Liquid helium temperature","orient":"bottom"},
  "data":{"name":"c"},
  "layer":[
   {"mark":{"type":"line","strokeWidth":1.1},
    "encoding":{
     "x":{"field":"h","type":"quantitative","scale":{"domain":[-10,10],"nice":false,"zero":false},"axis":{"values":[-10,-5,0,5,10],"title":"H [kA/m]","labelExpr":"replace(datum.label, '−', '-')"}},
     "y":{"field":"b","type":"quantitative","scale":{"domain":[-2,2],"nice":false,"zero":false},"axis":{"values":[-2,-1.5,-1,-0.5,0,0.5,1,1.5,2],"format":".1f","title":"B [T]","labelExpr":"replace(datum.label, '−', '-')"}},
     "color":{"field":"s","type":"nominal","scale":{"domain":["6723","3361","1613","807","403","161","81","DC"],"range":["#0072BD","#D95319","#EDB120","#7E2F8E","#77AC30","#4DBEEE","#A2142F","#000000"]},"legend":{"title":null,"labelExpr":"datum.label == 'DC' ? 'DC' : (length(datum.label) == 3 ? '\u200b\u2009' : length(datum.label) == 2 ? '\u200b\u2007' : '') + datum.label + ' Am⁻¹s⁻¹'"}},
     "detail":{"field":"d"}
    }},
   {"mark":{"type":"point","opacity":0},
    "encoding":{
     "x":{"field":"h","type":"quantitative","axis":{"orient":"top","values":[-10,-5,0,5,10],"labels":false,"title":"4.2 K","titleFontWeight":"bold","titleColor":"#000000","titlePadding":7}},
     "y":{"field":"b","type":"quantitative","axis":{"orient":"right","values":[-2,-1.5,-1,-0.5,0,0.5,1,1.5,2],"labels":false,"title":null}}
    }}
  ],
  "resolve":{"axis":{"x":"independent","y":"independent"}}
 }
],
"spacing":21,"center":true,
"resolve":{"scale":{"color":"independent"},"legend":{"color":"independent"}}
}
